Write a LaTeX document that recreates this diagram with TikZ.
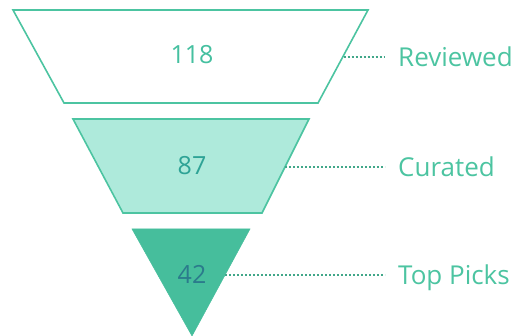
\documentclass[tikz,border=0pt]{standalone}
\usepackage{fontspec}
\setmainfont{Open Sans}
\usetikzlibrary{positioning}
\definecolor{tealline}{HTML}{4CC4A1}
\definecolor{mintfill}{HTML}{AEEADB}
\definecolor{deepfill}{HTML}{46BE9C}
\definecolor{numA}{HTML}{45C0A0}
\definecolor{numB}{HTML}{2EA396}
\definecolor{numC}{HTML}{2B7B8C}
\tikzstyle{stage} = [draw=tealline, line width=1.6pt, line join=miter]
\tikzstyle{count} = [font=\fontsize{25}{28}\selectfont, inner sep=0pt]
\tikzstyle{tag} = [font=\fontsize{26}{30}\selectfont, text=tealline, anchor=west, inner xsep=13pt, inner ysep=0pt, text height=18.5pt, text depth=0pt]
\tikzstyle{link} = [draw=tealline!85!black, line width=1.2pt, dash pattern=on 2.4pt off 1.6pt]

\begin{document}
\begin{tikzpicture}[x=1pt, y=-1pt]
\useasboundingbox (0,0) rectangle (516,336);

% Shapes
\draw [stage, fill=white] (13,10) -- (368,10) -- (318,103) -- (64,103) -- cycle;
\draw [stage, fill=mintfill] (73,119) -- (309,119) -- (262,213) -- (123,213) -- cycle;
\draw [stage, draw=deepfill, fill=deepfill, line width=0.5pt] (132,229) -- (250,229) -- (192,336) -- cycle;

% Nodes
\node (reviewed) [count, text=numA] at (192,55) {118};
\node (curated) [count, text=numB] at (192,166) {87};
\node (toppicks) [count, text=numC] at (192,274) {42};
\coordinate (edgeA) at (343.5,57);
\coordinate (edgeB) at (285,167);
\coordinate (edgeC) at (225,275);
\node (tagA) [tag] at (385,57) {Reviewed};
\node (tagB) [tag] at (385,167) {Curated};
\node (tagC) [tag] at (385,275) {Top Picks};

% Links
\draw [link] (edgeA) -- (tagA);
\draw [link] (edgeB) -- (tagB);
\draw [link] (edgeC) -- (tagC);

\end{tikzpicture}
\end{document}
